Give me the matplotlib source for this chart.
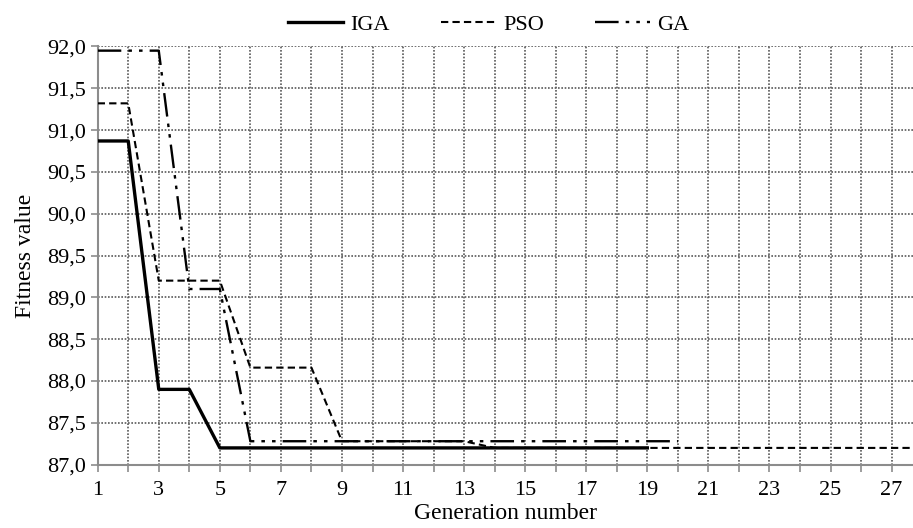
import matplotlib
matplotlib.use("Agg")
import matplotlib.pyplot as plt
from matplotlib.ticker import FuncFormatter
import numpy as np

plt.rcParams['font.family'] = ['Liberation Serif', 'DejaVu Serif']

# fitness value per generation
gen_iga = list(range(1, 20))
iga = [90.87, 90.87, 87.90, 87.90, 87.20, 87.20, 87.20, 87.20, 87.20, 87.20,
       87.20, 87.20, 87.20, 87.20, 87.20, 87.20, 87.20, 87.20, 87.20]

gen_pso = list(range(1, 29))
pso = [91.32, 91.32, 89.20, 89.20, 89.20, 88.16, 88.16, 88.16, 87.28, 87.28,
       87.28, 87.28, 87.28, 87.20, 87.20, 87.20, 87.20, 87.20, 87.20, 87.20,
       87.20, 87.20, 87.20, 87.20, 87.20, 87.20, 87.20, 87.20]

gen_ga = list(range(1, 21))
ga = [91.95, 91.95, 91.95, 89.10, 89.10, 87.28, 87.28, 87.28, 87.28, 87.28,
      87.28, 87.28, 87.28, 87.28, 87.28, 87.28, 87.28, 87.28, 87.28, 87.28]

x_ticks = list(range(1, 28))
y_ticks = [87.0, 87.5, 88.0, 88.5, 89.0, 89.5, 90.0, 90.5, 91.0, 91.5, 92.0]

fig = plt.figure(figsize=(9.13, 5.28), dpi=100)
ax = fig.add_axes([0.107, 0.12, 0.893, 0.792])

ax.plot(gen_iga, iga, color='black', lw=2.4, label='IGA', zorder=4)
ax.plot(gen_pso, pso, color='black', lw=1.5, dashes=(3.5, 2), label='PSO', zorder=3)
ax.plot(gen_ga, ga, color='black', lw=1.7, dashes=(10, 3, 1.5, 3, 1.5, 3), label='GA', zorder=3)

ax.set_xlim(1, 27.7)
ax.set_ylim(87.0, 92.0)
ax.set_xticks(x_ticks)
ax.set_xticklabels([str(v) if v % 2 == 1 else '' for v in x_ticks])
ax.set_yticks(y_ticks)
ax.yaxis.set_major_formatter(FuncFormatter(lambda v, p: f"{v:.1f}".replace('.', ',')))

ax.grid(True, color='0.35', lw=1.2, linestyle=(0, (1, 1)))
ax.set_axisbelow(True)
for s in ['top', 'right']:
    ax.spines[s].set_visible(False)
for s in ['left', 'bottom']:
    ax.spines[s].set_color('0.55')
    ax.spines[s].set_linewidth(1.5)
ax.tick_params(axis='both', colors='0.55', width=1.2, length=5, labelsize=16,
               labelcolor='black')
ax.tick_params(axis='x', pad=7)

ax.set_xlabel('Generation number', fontsize=17, labelpad=2)
ax.set_ylabel('Fitness value', fontsize=17, labelpad=8)

fig.legend(loc='upper center', bbox_to_anchor=(0.535, 1.01), ncol=3,
           frameon=False, fontsize=16, handlelength=2.5, columnspacing=2.3,
           handletextpad=0.3)

fig.savefig('out.png', dpi=100)
